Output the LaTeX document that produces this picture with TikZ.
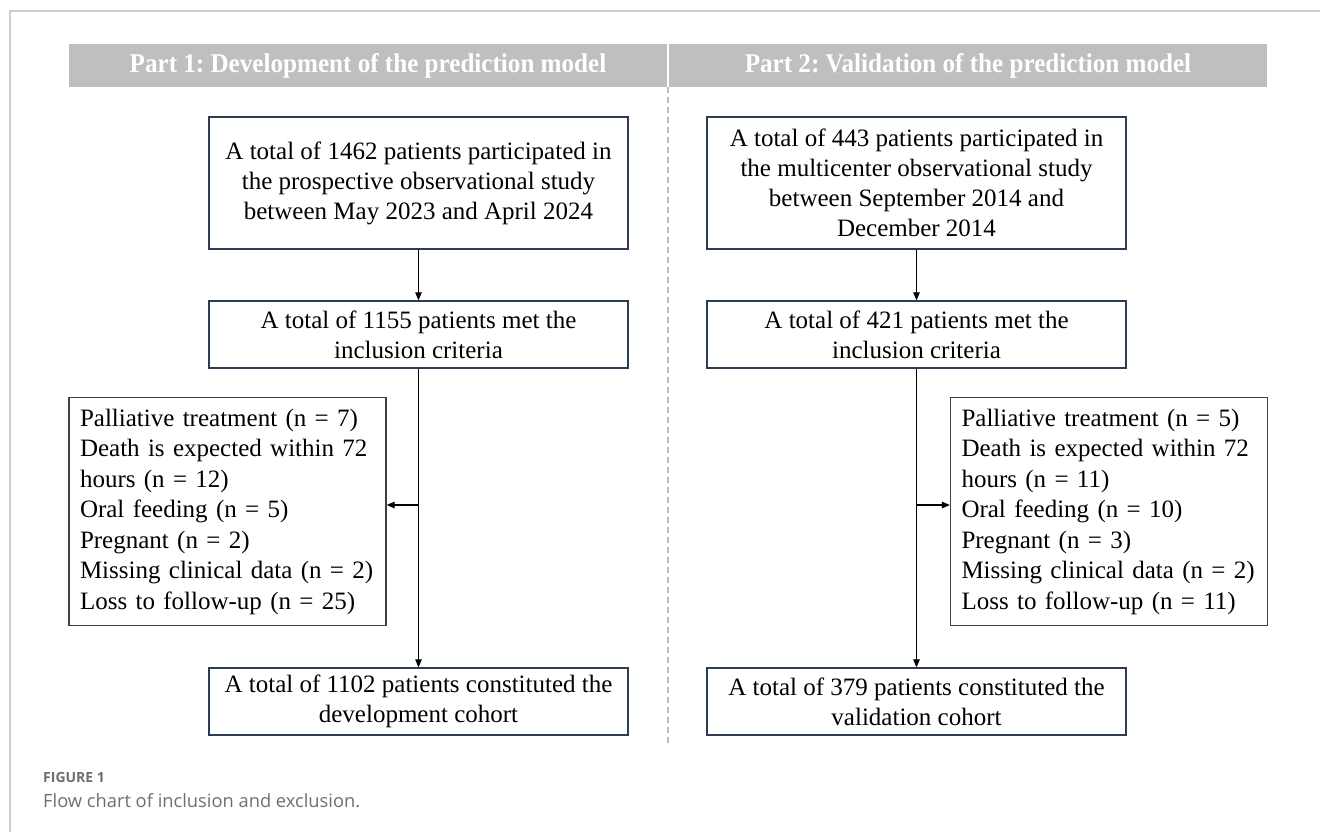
\documentclass[tikz,border=0pt]{standalone}
\usepackage{fontspec}
\setmainfont{Liberation Serif}
\newfontfamily\hdrfont{Liberation Serif}[FakeStretch=0.93]
\newfontfamily\capfont{Open Sans}
\usetikzlibrary{arrows.meta}
\definecolor{hdr}{HTML}{BFBFBF}
\definecolor{navy}{HTML}{2E3B55}
\definecolor{framegray}{HTML}{CCCCCC}
\definecolor{dashgray}{HTML}{BBBBBB}
\definecolor{capgray}{HTML}{6E6E6E}
\begin{document}
\frenchspacing
\begin{tikzpicture}[x=1pt,y=-1pt,
  hdrbox/.style={fill=hdr, draw=none, text=white, font=\hdrfont\fontsize{27}{30}\selectfont\bfseries, minimum width=598pt, minimum height=43pt, inner sep=0pt},
  mainbox/.style={draw=navy, line width=1.3pt, font=\fontsize{25}{30}\selectfont, align=center, minimum width=419pt, inner sep=0pt},
  exbox/.style={draw=black!75, line width=1.3pt, font=\fontsize{25}{30.5}\selectfont, align=left, text width=295pt, inner xsep=11pt, inner ysep=0pt, minimum height=228pt},
  arr/.style={-{Triangle[length=8pt,width=6.5pt]}, line width=1.2pt},
  divider/.style={draw=dashgray, line width=1.8pt, dash pattern=on 6pt off 4pt},
  frameline/.style={draw=framegray, line width=1.5pt}
]
\useasboundingbox (0,0) rectangle (1320,832);
% frame
\draw[frameline] (1320,11) -- (10,11) -- (10,832);
% headers
\node[hdrbox] (h1) at (368,65.5) {Part 1: Development of the prediction model};
\node[hdrbox] (h2) at (968,65.5) {Part 2: Validation of the prediction model};
% divider
\coordinate (dtop) at (668,87);
\coordinate (dbot) at (668,745);
\draw[divider] (dtop) -- (dbot);
% left column
\node[mainbox, minimum height=132pt] (L1) at (418.5,183) {A total of 1462 patients participated in\\the prospective observational study\\between May 2023 and April 2024};
\node[mainbox, minimum height=67pt] (L2) at (418.5,334.5) {A total of 1155 patients met the\\inclusion criteria};
\node[exbox] (L3) at (227.5,511.5) {Palliative treatment (n = 7)\\Death is expected within 72\\hours (n = 12)\\Oral feeding (n = 5)\\Pregnant (n = 2)\\Missing clinical data (n = 2)\\Loss to follow-up (n = 25)};
\node[mainbox, minimum height=67pt] (L4) at (418.5,701.5) {A total of 1102 patients constituted the\\development cohort};
% right column
\node[mainbox, minimum height=132pt] (R1) at (916.5,183) {A total of 443 patients participated in\\the multicenter observational study\\between September 2014 and\\December 2014};
\node[mainbox, minimum height=67pt] (R2) at (916.5,334.5) {A total of 421 patients met the\\inclusion criteria};
\node[exbox] (R3) at (1109,511.5) {Palliative treatment (n = 5)\\Death is expected within 72\\hours (n = 11)\\Oral feeding (n = 10)\\Pregnant (n = 3)\\Missing clinical data (n = 2)\\Loss to follow-up (n = 11)};
\node[mainbox, minimum height=67pt] (R4) at (916.5,701.5) {A total of 379 patients constituted the\\validation cohort};
% connectors
\draw[arr] (L1.south) -- (L2.north);
\draw[arr] (L2.south) -- (L4.north);
\coordinate (lj) at (418.5,505);
\draw[arr] (lj) -- (lj -| L3.east);
\draw[arr] (R1.south) -- (R2.north);
\draw[arr] (R2.south) -- (R4.north);
\coordinate (rj) at (916.5,505);
\draw[arr] (rj) -- (rj -| R3.west);
% caption
\node[anchor=base west, inner sep=0pt, text=capgray, font=\capfont\bfseries\fontsize{14}{16}\selectfont] (cap1) at (43,782) {FIGURE 1};
\node[anchor=base west, inner sep=0pt, text=capgray, font=\capfont\fontsize{18.3}{21}\selectfont] (cap2) at (43,807) {Flow chart of inclusion and exclusion.};
\end{tikzpicture}
\end{document}
